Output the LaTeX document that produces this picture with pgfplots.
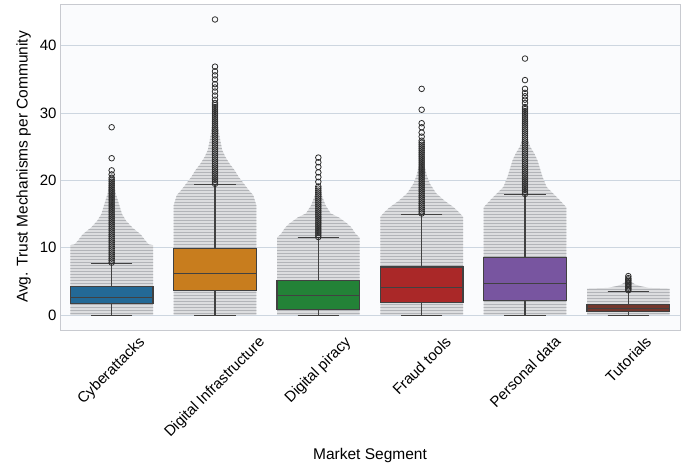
\documentclass[border=0pt]{standalone}
\usepackage{fontspec}
\setmainfont{Liberation Sans}
\usepackage{graphicx}
\usepackage{pgfplots}
\pgfplotsset{compat=1.18}
\usepgfplotslibrary{statistics}
\usetikzlibrary{patterns}
\definecolor{cblue}{RGB}{35,105,150}
\definecolor{corange}{RGB}{200,125,30}
\definecolor{cgreen}{RGB}{35,130,55}
\definecolor{cred}{RGB}{170,40,40}
\definecolor{cpurple}{RGB}{120,85,160}
\definecolor{cbrown}{RGB}{115,55,45}
\definecolor{edge}{RGB}{65,65,65}
\definecolor{swarm}{RGB}{220,221,223}
\definecolor{swarml}{RGB}{178,180,184}
\definecolor{gridc}{RGB}{205,214,224}
\definecolor{framec}{RGB}{200,202,208}
\definecolor{bgc}{RGB}{250,251,253}
\definecolor{outl}{RGB}{45,45,45}
\begin{document}
\begin{tikzpicture}
\useasboundingbox (0,0) rectangle (690pt,470pt);
\begin{axis}[
  at={(60pt,140pt)}, anchor=south west,
  scale only axis, width=620pt, height=326pt,
  xmin=-0.5, xmax=5.5, ymin=-2.2, ymax=46.2,
  xtick={0,1,2,3,4,5},
  xticklabels={\rotatebox{45}{Cyberattacks},\rotatebox{45}{Digital Infrastructure},\rotatebox{45}{Digital piracy},\rotatebox{45}{Fraud tools},\rotatebox{45}{Personal data},\rotatebox{45}{Tutorials}},
  xticklabel style={anchor=north, inner sep=0pt, yshift=-5pt, font=\fontsize{15}{18}\selectfont},
  ytick={0,10,20,30,40},
  yticklabel style={font=\fontsize{15}{18}\selectfont},
  /pgf/number format/assume math mode=true,
  major tick length=0pt,
  ymajorgrids, grid style={draw=gridc, line width=0.8pt},
  axis line style={draw=framec, line width=0.8pt},
  axis background/.style={fill=bgc},
  xlabel={Market Segment}, ylabel={Avg. Trust Mechanisms per Community},
  label style={font=\fontsize{15.5}{18}\selectfont},
  xlabel style={yshift=-5pt},
  ylabel style={yshift=2pt},
  boxplot/draw direction=y,
  clip=false,
]
% swarm envelopes
\pgfplotsset{swstyle/.style={fill=swarm, draw=none, postaction={pattern=horizontal lines, pattern color=swarml}}}
\addplot[swstyle] coordinates {(0.4,0)(0.4,10.4)(0.36,10.5)(0.33,11)(0.28,12)(0.2,13)(0.14,14)(0.1,15)(0.08,16)(0.06,17)(0.04,18)(0.03,19)(0.02,21)(-0.02,21)(-0.03,19)(-0.04,18)(-0.06,17)(-0.08,16)(-0.1,15)(-0.14,14)(-0.2,13)(-0.28,12)(-0.33,11)(-0.36,10.5)(-0.4,10.4)(-0.4,0)} --cycle;
\addplot[swstyle] coordinates {(1.4,0)(1.4,16.3)(1.37,17.8)(1.33,18.5)(1.28,19.5)(1.23,20.5)(1.19,21.5)(1.14,22.5)(1.1,23.5)(1.07,24.5)(1.05,26)(1.03,28)(0.97,28)(0.95,26)(0.93,24.5)(0.9,23.5)(0.86,22.5)(0.81,21.5)(0.77,20.5)(0.72,19.5)(0.67,18.5)(0.63,17.8)(0.6,16.3)(0.6,0)} --cycle;
\addplot[swstyle] coordinates {(2.4,0)(2.4,11.5)(2.36,12.1)(2.32,13)(2.28,13.6)(2.2,14.5)(2.12,15.1)(2.07,16.3)(2.04,17.5)(2.02,18.5)(1.98,18.5)(1.96,17.5)(1.93,16.3)(1.88,15.1)(1.8,14.5)(1.72,13.6)(1.68,13)(1.64,12.1)(1.6,11.5)(1.6,0)} --cycle;
\addplot[swstyle] coordinates {(3.4,0)(3.4,14.6)(3.36,15.3)(3.31,16)(3.22,17)(3.14,18.1)(3.08,19.5)(3.05,20.7)(3.03,22)(2.97,22)(2.95,20.7)(2.92,19.5)(2.86,18.1)(2.78,17)(2.69,16)(2.64,15.3)(2.6,14.6)(2.6,0)} --cycle;
\addplot[swstyle] coordinates {(4.4,0)(4.4,16)(4.31,17.5)(4.21,19)(4.17,20.5)(4.15,21.5)(4.12,23)(4.09,24)(4.05,25)(4.03,26)(3.97,26)(3.95,25)(3.91,24)(3.88,23)(3.85,21.5)(3.83,20.5)(3.79,19)(3.69,17.5)(3.6,16)(3.6,0)} --cycle;
\addplot[swstyle] coordinates {(5.4,0)(5.4,3.95)(5.2,4.05)(5.12,4.3)(5.06,4.6)(5.03,5)(4.97,5)(4.94,4.6)(4.88,4.3)(4.8,4.05)(4.6,3.95)(4.6,0)} --cycle;
% boxes
\addplot[boxplot prepared={lower whisker=0, lower quartile=1.73, median=2.62, upper quartile=4.2, upper whisker=7.7, draw position=0, box extend=0.8, whisker extend=0.4}, fill=cblue, draw=edge, line width=1.2pt] coordinates {};
\addplot[boxplot prepared={lower whisker=0, lower quartile=3.7, median=6.17, upper quartile=9.88, upper whisker=19.36, draw position=1, box extend=0.8, whisker extend=0.4}, fill=corange, draw=edge, line width=1.2pt] coordinates {};
\addplot[boxplot prepared={lower whisker=0, lower quartile=0.89, median=2.96, upper quartile=5.19, upper whisker=11.5, draw position=2, box extend=0.8, whisker extend=0.4}, fill=cgreen, draw=edge, line width=1.2pt] coordinates {};
\addplot[boxplot prepared={lower whisker=0, lower quartile=1.88, median=4.15, upper quartile=7.16, upper whisker=14.96, draw position=3, box extend=0.8, whisker extend=0.4}, fill=cred, draw=edge, line width=1.2pt] coordinates {};
\addplot[boxplot prepared={lower whisker=0, lower quartile=2.12, median=4.69, upper quartile=8.54, upper whisker=17.9, draw position=4, box extend=0.8, whisker extend=0.4}, fill=cpurple, draw=edge, line width=1.2pt] coordinates {};
\addplot[boxplot prepared={lower whisker=0, lower quartile=0.5, median=0.99, upper quartile=1.63, upper whisker=3.56, draw position=5, box extend=0.8, whisker extend=0.4}, fill=cbrown, draw=edge, line width=1.2pt] coordinates {};
% outliers
\pgfplotsset{outstyle/.style={only marks, mark=o, mark size=2.8pt, mark options={draw=outl, line width=0.8pt}}}
\addplot[outstyle] coordinates {(0,7.8)(0,8.1)(0,8.4)(0,8.7)(0,9.0)(0,9.3)(0,9.6)(0,9.9)(0,10.2)(0,10.5)(0,10.8)(0,11.1)(0,11.4)(0,11.7)(0,12.0)(0,12.3)(0,12.6)(0,12.9)(0,13.2)(0,13.5)(0,13.8)(0,14.1)(0,14.4)(0,14.7)(0,15.0)(0,15.3)(0,15.6)(0,15.9)(0,16.2)(0,16.5)(0,16.8)(0,17.1)(0,17.4)(0,17.7)(0,18.0)(0,18.3)(0,18.6)(0,18.9)(0,19.2)(0,19.5)(0,19.8)(0,20.1)(0,20.4)(0,20.9)(0,21.5)(0,23.3)(0,27.9)};
\addplot[outstyle] coordinates {(1,19.5)(1,19.8)(1,20.1)(1,20.4)(1,20.7)(1,21.0)(1,21.3)(1,21.6)(1,21.9)(1,22.2)(1,22.5)(1,22.8)(1,23.1)(1,23.4)(1,23.7)(1,24.0)(1,24.3)(1,24.6)(1,24.9)(1,25.2)(1,25.5)(1,25.8)(1,26.1)(1,26.4)(1,26.7)(1,27.0)(1,27.3)(1,27.6)(1,27.9)(1,28.2)(1,28.5)(1,28.8)(1,29.1)(1,29.4)(1,29.7)(1,30.0)(1,30.3)(1,30.6)(1,30.9)(1,31.2)(1,31.5)(1,32.0)(1,32.6)(1,33.2)(1,33.8)(1,34.3)(1,35.0)(1,35.6)(1,36.2)(1,36.9)(1,43.9)};
\addplot[outstyle] coordinates {(2,11.6)(2,11.9)(2,12.2)(2,12.5)(2,12.8)(2,13.1)(2,13.4)(2,13.7)(2,14.0)(2,14.3)(2,14.6)(2,14.9)(2,15.2)(2,15.5)(2,15.8)(2,16.1)(2,16.4)(2,16.7)(2,17.0)(2,17.3)(2,17.6)(2,17.9)(2,18.2)(2,18.5)(2,18.8)(2,19.1)(2,19.8)(2,20.5)(2,21.2)(2,22.0)(2,22.7)(2,23.4)};
\addplot[outstyle] coordinates {(3,15.1)(3,15.4)(3,15.7)(3,16.0)(3,16.3)(3,16.6)(3,16.9)(3,17.2)(3,17.5)(3,17.8)(3,18.1)(3,18.4)(3,18.7)(3,19.0)(3,19.3)(3,19.6)(3,19.9)(3,20.2)(3,20.5)(3,20.8)(3,21.1)(3,21.4)(3,21.7)(3,22.0)(3,22.3)(3,22.6)(3,22.9)(3,23.2)(3,23.5)(3,23.8)(3,24.1)(3,24.4)(3,24.7)(3,25.0)(3,25.3)(3,25.6)(3,25.9)(3,26.5)(3,27.1)(3,27.9)(3,28.5)(3,30.5)(3,33.6)};
\addplot[outstyle] coordinates {(4,18.0)(4,18.3)(4,18.6)(4,18.9)(4,19.2)(4,19.5)(4,19.8)(4,20.1)(4,20.4)(4,20.7)(4,21.0)(4,21.3)(4,21.6)(4,21.9)(4,22.2)(4,22.5)(4,22.8)(4,23.1)(4,23.4)(4,23.7)(4,24.0)(4,24.3)(4,24.6)(4,24.9)(4,25.2)(4,25.5)(4,25.8)(4,26.1)(4,26.4)(4,26.7)(4,27.0)(4,27.3)(4,27.6)(4,27.9)(4,28.2)(4,28.5)(4,28.8)(4,29.1)(4,29.4)(4,29.7)(4,30.0)(4,30.3)(4,30.6)(4,30.9)(4,31.5)(4,32.0)(4,32.5)(4,33.0)(4,33.6)(4,34.9)(4,38.1)};
\addplot[outstyle] coordinates {(5,3.7)(5,3.9)(5,4.1)(5,4.3)(5,4.5)(5,4.7)(5,4.9)(5,5.1)(5,5.3)(5,5.5)(5,5.8)};
\end{axis}
\end{tikzpicture}
\end{document}
